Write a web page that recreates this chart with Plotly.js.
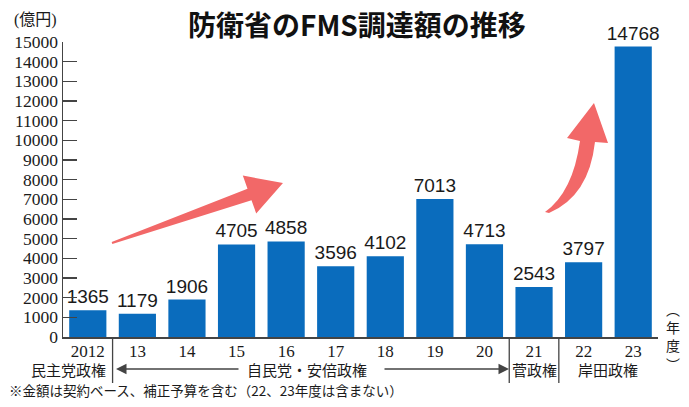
<!DOCTYPE html>
<html>
<head>
<meta charset="utf-8">
<script src="https://cdn.plot.ly/plotly-3.0.1.min.js"></script>
<style>html,body{margin:0;padding:0;background:#fff;}#chart{width:689px;height:407px;}</style>
</head>
<body>
<div id="chart"></div>
<script>
// Data
const years = ["2012","13","14","15","16","17","18","19","20","21","22","23"];
const amounts = [1365, 1179, 1906, 4705, 4858, 3596, 4102, 7013, 4713, 2543, 3797, 14768];
const yTicks = [0,1000,2000,3000,4000,5000,6000,7000,8000,9000,10000,11000,12000,13000,14000,15000];
const regimes = ["民主党政権", "自民党・安倍政権", "菅政権", "岸田政権"];
const titleText = "防衛省のFMS調達額の推移";
const unitText = "(億円)";
const yearUnit = "︵<br>年<br>度<br>︶";
const noteText = "※金額は契約ベース、補正予算を含む（22、23年度は含まない）";

// Layout geometry (pixels)
const L = 63, R = 658, T = 42, B = 337;
const px = x => (x - L) / (R - L);
const py = y => (B - y) / (B - T);
const pt = (x, y) => px(x).toFixed(4) + "," + py(y).toFixed(4);

const CJK = "'Noto Sans CJK JP', 'Noto Sans', sans-serif";
const SERIF = "'Liberation Serif', 'DejaVu Serif', 'Noto Sans CJK JP', serif";
const SANS = "'Liberation Sans', Arial, sans-serif";

const trace = {
  type: "bar",
  x: years,
  y: amounts,
  text: amounts.map(String),
  textposition: "outside",
  constraintext: "none",
  cliponaxis: false,
  textfont: {family: SANS, size: 19, color: "#1a1a1a"},
  marker: {color: "#0a6cbd"},
  hoverinfo: "none"
};

// straight arrow
const straightArrow = "M" + pt(111.7,242.1) + " L" + pt(247.5,188.8) + " L" + pt(242.8,175.6) +
  " L" + pt(283,183) + " L" + pt(256.2,213.4) + " L" + pt(251.5,200.2) + " L" + pt(112.3,243.9) + " Z";
// curved arrow
const curvedArrow = "M" + pt(545,212) + " Q" + pt(573,192) + " " + pt(580,141) +
  " L" + pt(567,138) + " L" + pt(594,103) + " L" + pt(608,143) + " L" + pt(595,142) +
  " Q" + pt(589,196) + " " + pt(549,213) + " Z";

const shapes = [
  {type:"path", xref:"paper", yref:"paper", path: straightArrow, fillcolor:"#f26868", line:{width:0}},
  {type:"path", xref:"paper", yref:"paper", path: curvedArrow, fillcolor:"#f26868", line:{width:0}},
  {type:"line", xref:"x", yref:"paper", x0:0.5, x1:0.5, y0:0, y1:py(383), line:{color:"#444", width:1.3}},
  {type:"line", xref:"x", yref:"paper", x0:8.5, x1:8.5, y0:0, y1:py(383), line:{color:"#444", width:1.3}},
  {type:"line", xref:"x", yref:"paper", x0:9.5, x1:9.5, y0:0, y1:py(383), line:{color:"#444", width:1.3}}
];

const ann = (text, x, y, size, family, xanchor, extra) => Object.assign({
  text: text, xref:"paper", yref:"paper", x: px(x), y: py(y), xanchor: xanchor || "center", yanchor:"middle",
  showarrow:false, font:{family: family, size: size, color:"#1a1a1a"}
}, extra || {});

const annotations = [
  ann(titleText, 357, 24, 28, CJK, "center", {font:{family:CJK, size:28, color:"#111", weight:"bold"}}),
  ann(unitText, 12, 20, 16, SERIF, "left"),
  ann(yearUnit, 673, 336, 14, CJK, "center"),
  ann(regimes[0], 108, 369, 15, CJK, "right"),
  ann(regimes[1], 245, 369, 15, CJK, "left"),
  ann(regimes[2], 534, 369, 15, CJK, "center"),
  ann(regimes[3], 608, 369, 15, CJK, "center"),
  ann(noteText, 7, 390, 13.5, CJK, "left"),
  {text:"", xref:"paper", yref:"paper", x:px(116), y:py(369), ax:124, ay:0, showarrow:true,
   arrowhead:2, arrowsize:1.4, arrowwidth:1.5, arrowcolor:"#444"},
  {text:"", xref:"paper", yref:"paper", x:px(509), y:py(369), ax:-126, ay:0, showarrow:true,
   arrowhead:2, arrowsize:1.4, arrowwidth:1.5, arrowcolor:"#444"}
];

const layout = {
  width: 689, height: 407,
  margin: {l: L, r: 689 - R, t: T, b: 407 - B, pad: 0},
  paper_bgcolor: "#ffffff", plot_bgcolor: "#ffffff",
  showlegend: false,
  bargap: 0.25,
  xaxis: {
    type: "category", showline: true, linecolor: "#444", linewidth: 1.5,
    ticks: "", showgrid: false, zeroline: false, fixedrange: true,
    ticklabelstandoff: -2,
    tickfont: {family: SERIF, size: 17, color: "#1a1a1a"}
  },
  yaxis: {
    range: [0, 15000], tickvals: yTicks, ticktext: yTicks.map(String),
    showline: true, linecolor: "#444", linewidth: 1.5,
    ticks: "inside", ticklen: 14, tickwidth: 1.3, tickcolor: "#444",
    showgrid: false, zeroline: false, fixedrange: true,
    tickfont: {family: SERIF, size: 17.5, color: "#1a1a1a"}
  },
  shapes: shapes,
  annotations: annotations
};

Plotly.newPlot("chart", [trace], layout, {displayModeBar: false, staticPlot: true});
</script>
</body>
</html>
